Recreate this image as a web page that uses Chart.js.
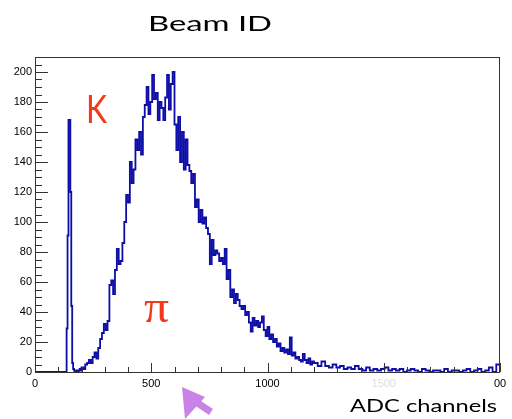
<!DOCTYPE html>
<html>
<head>
<meta charset="utf-8">
<script src="https://cdn.jsdelivr.net/npm/chart.js@4.4.1/dist/chart.umd.min.js"></script>
<style>
html, body { margin: 0; padding: 0; background: #fff; overflow: hidden; }
#wrap { width: 512px; height: 419px; }
</style>
</head>
<body>
<div id="wrap"><canvas id="beamChart" width="512" height="419"></canvas></div>
<script>
// ADC histogram: first bin edge, bin width, counts per bin
const kaonStart = 132;
const kaonWidth = 4;
const kaonCounts = [0, 29, 91, 168, 168, 120, 44, 6, 2, 1, 0, 0, 1, 0, 1, 2, 1];

const pionStart = 200;
const pionWidth = 8;
const pionCounts = [
    3, 2, 5, 6, 8, 6, 10, 13, 9, 16,
    22, 26, 32, 28, 34, 58, 61, 52, 68, 82,
    72, 74, 86, 100, 118, 113, 140, 126, 135, 155,
    148, 160, 145, 170, 178, 190, 172, 180, 198, 182,
    186, 168, 180, 176, 168, 183, 198, 175, 192, 200,
    165, 148, 170, 140, 160, 135, 155, 138, 134, 126,
    132, 110, 115, 100, 108, 99, 103, 96, 92, 72,
    88, 78, 81, 79, 74, 76, 72, 82, 62, 68,
    50, 55, 46, 52, 48, 44, 42, 44, 38, 40,
    33, 27, 36, 31, 34, 30, 33, 37, 28, 24,
    30, 22, 25, 20, 22, 17, 19, 14, 16, 13,
    15, 12, 23, 11, 13, 9, 10, 8, 7, 12,
    8, 6, 9, 5, 7
];

const tailStart = 1200;
const tailWidth = 16;
const tailCounts = [
    6, 4, 7, 4, 3, 5, 3, 4, 2, 3,
    2, 4, 2, 1, 3, 1, 2, 1, 2, 3,
    1, 2, 1, 2, 0, 1, 2, 1, 0, 2,
    1, 0, 1, 1, 0, 2, 0, 1, 1, 0,
    1, 2, 0, 1, 2, 0, 1, 3, 0, 5
];

const xMax = 2000;
const yMax = 210;
const xTicks = [0, 500, 1000, 1500, 2000];
const xTickLabels = ['0', '500', '1000', '1500', '00'];
const yTicks = [0, 20, 40, 60, 80, 100, 120, 140, 160, 180, 200];

// histogram points at the low edge of every bin, plus the closing edge
const points = [{ x: 0, y: 0 }];
function addBins(start, width, counts) {
    counts.forEach((c, i) => points.push({ x: start + i * width, y: c }));
}
addBins(kaonStart, kaonWidth, kaonCounts);
addBins(pionStart, pionWidth, pionCounts);
addBins(tailStart, tailWidth, tailCounts);
points.push({ x: xMax, y: tailCounts[tailCounts.length - 1] });

function stretchText(ctx, text, left, baseline, font, color, width) {
    ctx.save();
    ctx.font = font;
    const w = ctx.measureText(text).width;
    ctx.translate(left, baseline);
    ctx.scale(width / w, 1);
    ctx.fillStyle = color;
    ctx.textAlign = 'left';
    ctx.textBaseline = 'alphabetic';
    ctx.fillText(text, 0, 0);
    ctx.restore();
}

// ROOT style frame: inner ticks, minor ticks, labels on the slide
const rootFrame = {
    id: 'rootFrame',
    afterDraw(chart) {
        const ctx = chart.ctx;
        const a = chart.chartArea;
        const xs = chart.scales.x;
        const ys = chart.scales.y;
        ctx.save();
        ctx.strokeStyle = '#333';
        ctx.lineWidth = 1;
        ctx.strokeRect(a.left + 0.5, a.top + 0.5, a.right - a.left - 1, a.bottom - a.top);
        ctx.beginPath();
        for (let v = 0; v <= xMax; v += 100) {
            const px = Math.round(xs.getPixelForValue(v)) + 0.5;
            const len = v % 500 === 0 ? 9 : 5;
            ctx.moveTo(px, a.bottom);
            ctx.lineTo(px, a.bottom - len);
        }
        for (let v = 0; v <= yMax; v += 5) {
            const py = Math.round(ys.getPixelForValue(v)) + 0.5;
            const len = v % 20 === 0 ? 13 : 7;
            ctx.moveTo(a.left, py);
            ctx.lineTo(a.left + len, py);
        }
        ctx.stroke();
        ctx.restore();

        stretchText(ctx, 'Beam ID', 148, 31, '22px Lato', '#000', 124);
        stretchText(ctx, 'ADC channels', 350, 412, '18px Lato', '#000', 147);
        stretchText(ctx, 'K', 86, 123, '39px Lato', '#f23a1a', 21);
        stretchText(ctx, 'π', 144, 322, '46px "Liberation Serif"', '#f23a1a', 25);

        // purple pointer arrow at the bottom
        ctx.save();
        ctx.fillStyle = '#c982e6';
        ctx.strokeStyle = '#c982e6';
        ctx.beginPath();
        ctx.moveTo(182, 387);
        ctx.lineTo(205, 397);
        ctx.lineTo(185, 419);
        ctx.closePath();
        ctx.fill();
        ctx.lineWidth = 7;
        ctx.beginPath();
        ctx.moveTo(190, 398);
        ctx.lineTo(211, 412);
        ctx.stroke();
        ctx.restore();
    }
};

const tickFont = { family: '"Liberation Sans", Arial, sans-serif', size: 11 };

new Chart(document.getElementById('beamChart'), {
    type: 'line',
    data: {
        datasets: [{
            data: points,
            borderColor: '#0e0ea6',
            borderWidth: 1.8,
            pointRadius: 0,
            stepped: 'before',
            fill: false,
            clip: 3
        }]
    },
    options: {
        responsive: false,
        animation: false,
        devicePixelRatio: 1,
        layout: { padding: { left: 0, top: 57, right: 12, bottom: 0 } },
        plugins: { legend: { display: false }, tooltip: { enabled: false } },
        scales: {
            x: {
                type: 'linear',
                min: 0,
                max: xMax,
                afterBuildTicks: (scale) => { scale.ticks = xTicks.map(v => ({ value: v })); },
                afterFit: (scale) => { scale.height = 47; },
                grid: { display: false, drawTicks: false },
                border: { display: false },
                ticks: {
                    autoSkip: false,
                    maxRotation: 0,
                    padding: 5,
                    font: tickFont,
                    color: (c) => c.tick && c.tick.value === 1500 ? '#dddddd' : '#000',
                    callback: (v) => xTickLabels[xTicks.indexOf(v)]
                }
            },
            y: {
                min: 0,
                max: yMax,
                afterBuildTicks: (scale) => { scale.ticks = yTicks.map(v => ({ value: v })); },
                afterFit: (scale) => { scale.width = 35; },
                grid: { display: false, drawTicks: false },
                border: { display: false },
                ticks: { padding: 3, font: tickFont, color: '#000' }
            }
        }
    },
    plugins: [rootFrame]
});
</script>
</body>
</html>
